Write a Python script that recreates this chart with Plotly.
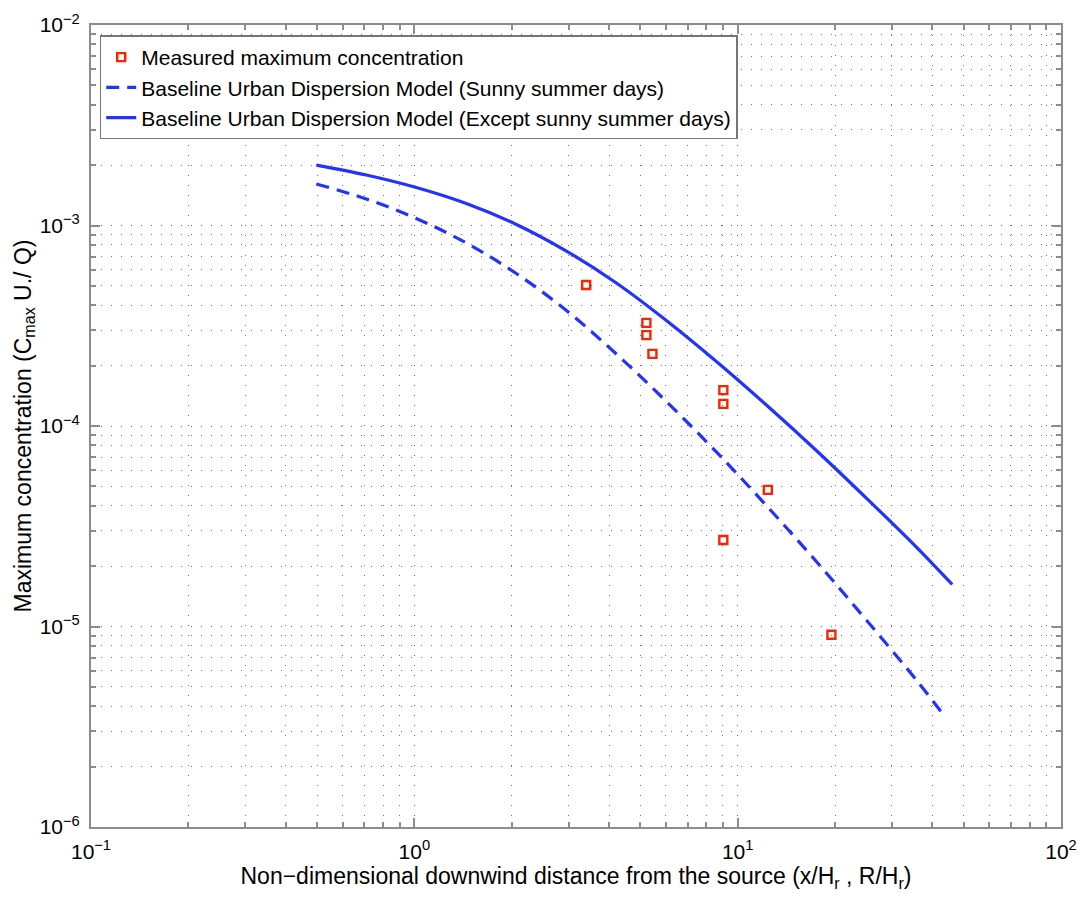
import plotly.graph_objects as go

# Measured points
meas_x = [3.40, 5.22, 5.22, 5.45, 9.03, 9.03, 12.4, 9.03, 19.5]
meas_y = [5.05e-4, 3.27e-4, 2.84e-4, 2.29e-4, 1.51e-4, 1.29e-4, 4.8e-5, 2.7e-5, 9.1e-6]

# Baseline model, except sunny summer days (solid)
solid_x = [0.4975, 0.7104, 1.014, 1.448, 2.068, 2.953, 4.215, 6.018, 8.594, 12.27, 17.51, 25.0, 35.7, 46.1]
solid_y = [2.002e-3, 1.786e-3, 1.547e-3, 1.287e-3, 1.012e-3, 7.46e-4, 5.17e-4, 3.36e-4, 2.098e-4,
           1.273e-4, 7.55e-5, 4.37e-5, 2.49e-5, 1.62e-5]

# Baseline model, sunny summer days (dashed)
dash_x = [0.4975, 0.7104, 1.014, 1.448, 2.068, 2.953, 4.215, 6.018, 8.594, 12.27, 17.51, 25.0, 35.7, 43.9]
dash_y = [1.611e-3, 1.356e-3, 1.084e-3, 8.18e-4, 5.76e-4, 3.77e-4, 2.286e-4, 1.325e-4, 7.42e-5,
          4.01e-5, 2.11e-5, 1.077e-5, 5.41e-6, 3.52e-6]

x_tickvals = [0.1, 1, 10, 100]
x_ticktext = ["10<sup>\u22121</sup>", "10<sup>0</sup>", "10<sup>1</sup>", "10<sup>2</sup>"]
y_tickvals = [1e-6, 1e-5, 1e-4, 1e-3, 1e-2]
y_ticktext = ["10<sup>\u22126</sup>", "10<sup>\u22125</sup>", "10<sup>\u22124</sup>", "10<sup>\u22123</sup>", "10<sup>\u22122</sup>"]

FONT = "Liberation Sans, Arial, Helvetica, sans-serif"
BLUE = "#2233ff"
RED = "#ff2200"

fig = go.Figure()
fig.add_trace(go.Scatter(
    x=meas_x, y=meas_y, mode="markers",
    name="Measured maximum concentration",
    marker=dict(symbol="square-open", size=8, color=RED, line=dict(width=2.4, color=RED)),
))
fig.add_trace(go.Scatter(
    x=dash_x, y=dash_y, mode="lines", line_shape="spline",
    name="Baseline Urban Dispersion Model (Sunny summer days)",
    line=dict(color=BLUE, width=3.2, dash="13px,8px", smoothing=1),
))
fig.add_trace(go.Scatter(
    x=solid_x, y=solid_y, mode="lines", line_shape="spline",
    name="Baseline Urban Dispersion Model (Except sunny summer days)",
    line=dict(color=BLUE, width=3.2, smoothing=1),
))

axis_common = dict(
    type="log", automargin=False,
    showline=True, linecolor="#8c8c8c", linewidth=2, mirror="ticks",
    ticks="inside", ticklen=9, tickcolor="#8c8c8c", tickwidth=1.5,
    showgrid=True, gridcolor="#666666", griddash="1px,9px", gridwidth=1,
    zeroline=False,
    tickfont=dict(family=FONT, size=21, color="black"),
    minor=dict(ticks="inside", ticklen=5, tickcolor="#8c8c8c", dtick="D1",
               showgrid=True, gridcolor="#777777", griddash="1px,9px", gridwidth=1),
)

fig.update_xaxes(**axis_common, range=[-1, 2],
                 tickmode="array", tickvals=x_tickvals, ticktext=x_ticktext,
                 ticklabelstandoff=5,
                 title=dict(text="Non\u2212dimensional downwind distance from the source (x/H<sub>r</sub> , R/H<sub>r</sub>)",
                            font=dict(family=FONT, size=23, color="black"), standoff=0))
fig.update_yaxes(**axis_common, range=[-6, -2],
                 tickmode="array", tickvals=y_tickvals, ticktext=y_ticktext,
                 ticklabelstandoff=5,
                 title=dict(text="Maximum concentration (C<sub>max</sub> U./ Q)",
                            font=dict(family=FONT, size=23, color="black"), standoff=2))

fig.update_layout(
    width=1081, height=903,
    margin=dict(l=91, r=20, t=25, b=76),
    paper_bgcolor="white", plot_bgcolor="white",
    font=dict(family=FONT, size=21, color="black"),
    legend=dict(x=0.009, y=0.987, xanchor="left", yanchor="top",
                bgcolor="white", bordercolor="#777777", borderwidth=1.5,
                font=dict(family=FONT, size=21, color="black"),
                tracegroupgap=0, itemwidth=30),
    showlegend=True,
)

fig.write_html("out.html", config={"displayModeBar": False},
               post_script="document.body.style.margin='0';")
